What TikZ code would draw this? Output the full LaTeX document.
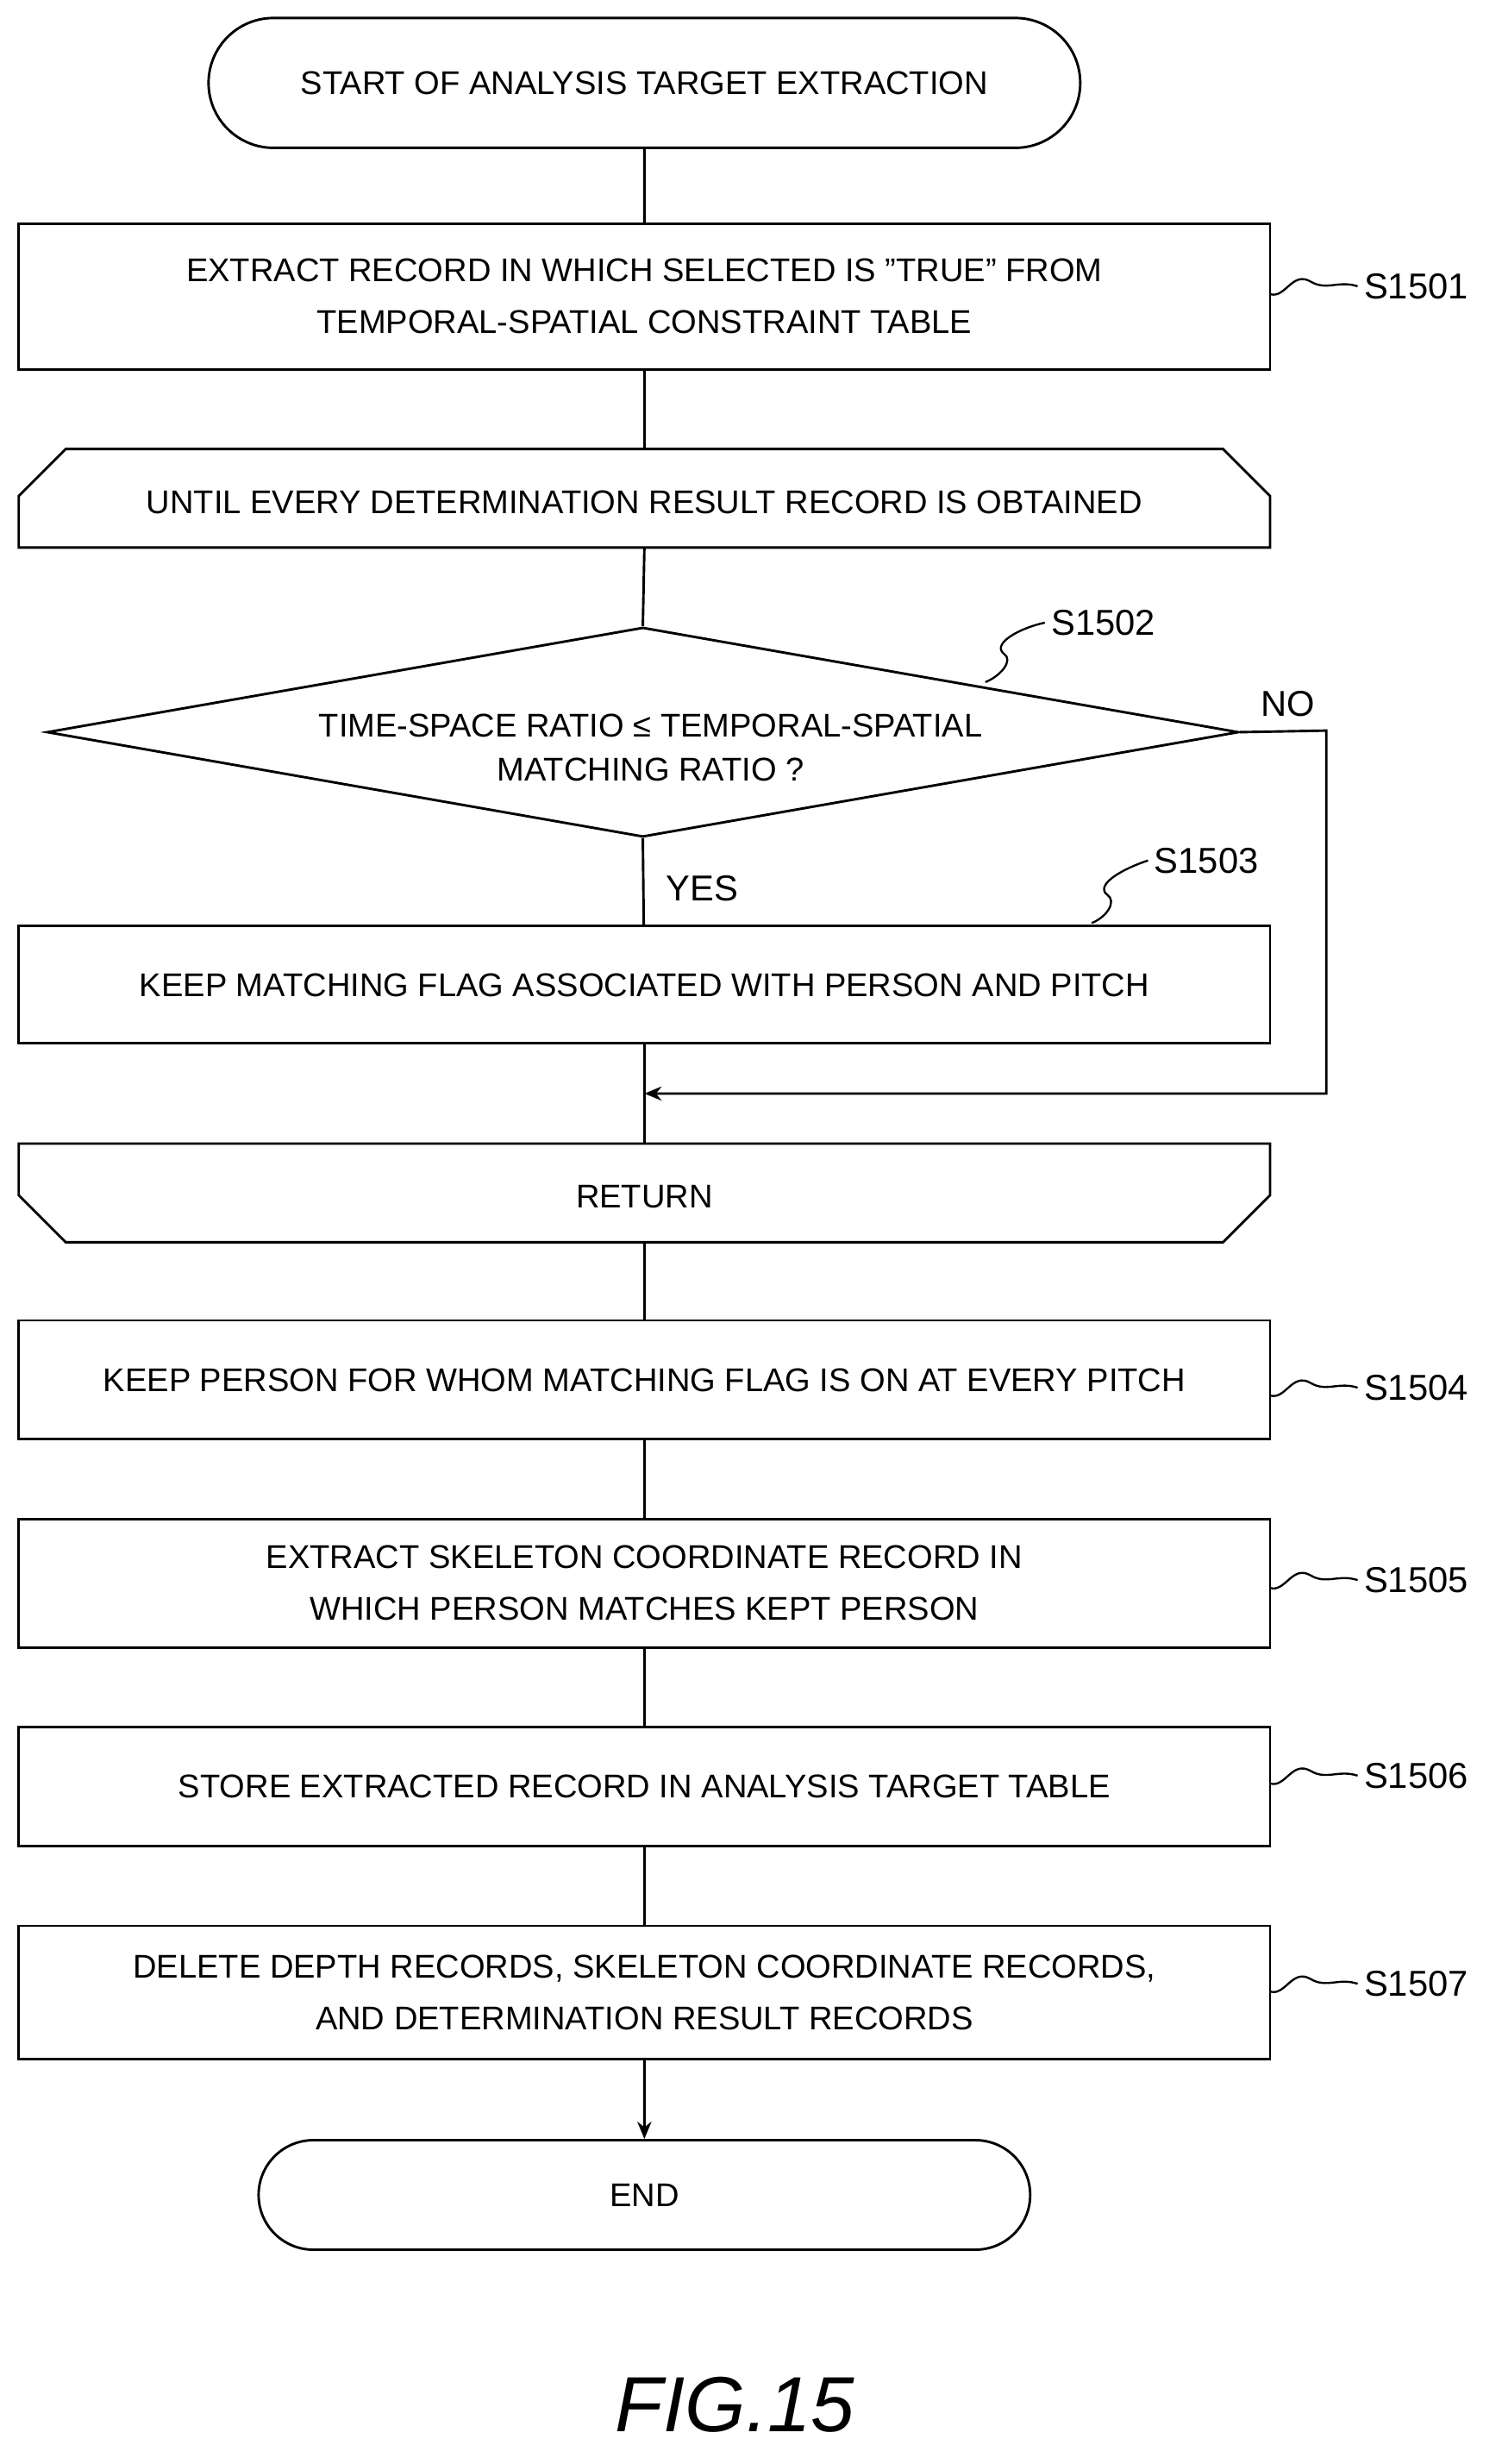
\documentclass[tikz,border=0pt]{standalone}
\usepackage{fontspec}
\setmainfont{Liberation Sans}
\usetikzlibrary{arrows.meta,shapes.geometric,shapes.misc}
\begin{document}
\begin{tikzpicture}[x=1pt,y=-1pt,line width=1.6pt,
  txt/.style={font=\fontsize{21}{33}\selectfont,align=center},
  box/.style={draw,txt,minimum width=800pt,inner sep=0pt},
  lbl/.style={font=\fontsize{23}{28}\selectfont},
  arr/.style={-{Stealth[length=11pt,width=9pt]}},
  sq/.style={line width=1.3pt}]
\useasboundingbox (0,0) rectangle (960,1575);
\node[draw,txt,rounded rectangle,minimum width=564pt,minimum height=83pt] (start) at (412,53) {START OF ANALYSIS TARGET EXTRACTION};
\node[box,minimum height=93pt] (s1) at (412,189.5) {EXTRACT RECORD IN WHICH SELECTED IS "TRUE" FROM\\TEMPORAL-SPATIAL CONSTRAINT TABLE};
\draw (12,350) -- (12,317) -- (42,287) -- (782,287) -- (812,317) -- (812,350) -- cycle;
\node[txt] (ls) at (412,321) {UNTIL EVERY DETERMINATION RESULT RECORD IS OBTAINED};
\coordinate (lsT) at (412,287); \coordinate (lsB) at (412,350);
\node[draw,diamond,minimum width=762pt,minimum height=134pt,inner sep=0pt,aspect=5.7] (d) at (411,468) {};
\node[txt,font=\fontsize{21}{28}\selectfont] at (416,478) {TIME-SPACE RATIO ≤ TEMPORAL-SPATIAL\\MATCHING RATIO ?};
\node[box,minimum height=75pt] (s3) at (412,629.5) {KEEP MATCHING FLAG ASSOCIATED WITH PERSON AND PITCH};
\draw (12,731) -- (812,731) -- (812,764) -- (782,794) -- (42,794) -- (12,764) -- cycle;
\node[txt] (le) at (412,765) {RETURN};
\coordinate (leT) at (412,731); \coordinate (leB) at (412,794);
\node[box,minimum height=76pt] (s4) at (412,882) {KEEP PERSON FOR WHOM MATCHING FLAG IS ON AT EVERY PITCH};
\node[box,minimum height=82pt] (s5) at (412,1012) {EXTRACT SKELETON COORDINATE RECORD IN\\WHICH PERSON MATCHES KEPT PERSON};
\node[box,minimum height=76pt] (s6) at (412,1142) {STORE EXTRACTED RECORD IN ANALYSIS TARGET TABLE};
\node[box,minimum height=85pt] (s7) at (412,1273.5) {DELETE DEPTH RECORDS, SKELETON COORDINATE RECORDS,\\AND DETERMINATION RESULT RECORDS};
\node[draw,txt,rounded rectangle,minimum width=500pt,minimum height=70pt] (end) at (412,1403) {END};
\draw (start) -- (s1); \draw (s1) -- (lsT); \draw (lsB) -- (d.north);
\draw (d.south) -- (s3);
\coordinate (m) at (412,699);
\draw (s3) -- (m) -- (leT);
\draw[arr] (d.east) -- (848,467) -- (848,699) -- (m);
\draw (leB) -- (s4); \draw (s4) -- (s5); \draw (s5) -- (s6); \draw (s6) -- (s7);
\draw[arr] (s7) -- (end);
\node[lbl,anchor=west] (yes) at (422,568) {YES};
\node[lbl,anchor=west] (no) at (802,450) {NO};
% step labels
\foreach \n/\y/\t in {s1/183/S1501,s4/887/S1504,s5/1010/S1505,s6/1135/S1506,s7/1268/S1507}{
  \node[lbl,anchor=west] (L\t) at (868,\y) {\t};
  \draw[sq] (812,\y+5) .. controls (822,\y+8) and (826,\y-10) .. (838,\y-3) .. controls (848,\y+3) and (856,\y-4) .. (L\t.west);
}
\node[lbl,anchor=west] (L2) at (668,398) {S1502};
\draw[sq] (630,436) .. controls (640,432) and (648,422) .. (642,418) .. controls (634,412) and (650,402) .. (L2.west);
\node[lbl,anchor=west] (L3) at (734,550) {S1503};
\draw[sq] (698,590) .. controls (708,586) and (714,576) .. (708,572) .. controls (700,566) and (716,556) .. (L3.west);
\node[font=\fontsize{50}{60}\selectfont\itshape] (fig) at (470,1537) {FIG.15};
\end{tikzpicture}
\end{document}
